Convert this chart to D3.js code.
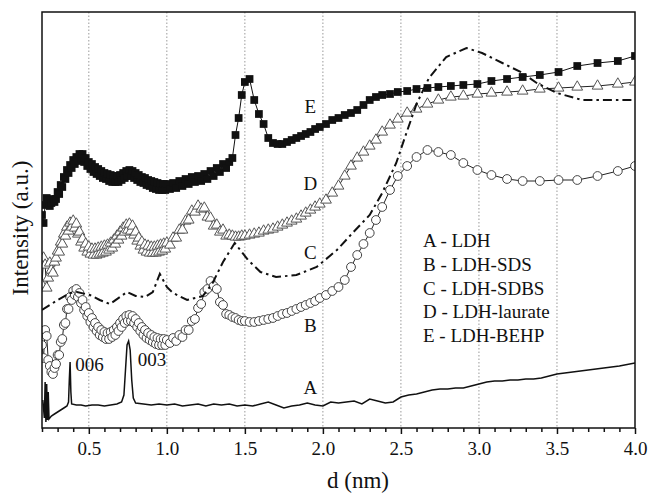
<!DOCTYPE html>
<html>
<head>
<meta charset="utf-8">
<script src="https://cdn.jsdelivr.net/npm/d3@7"></script>
<style>
  body { margin: 0; background: #fff; }
  svg { display: block; }
  text { font-family: "Liberation Serif", "Times New Roman", serif; fill: #111; }
</style>
</head>
<body>
<div id="chart"></div>
<script>
// scan positions (d, nm) shared by the marker curves B, D, E
const dScan = [
  0.20, 0.21, 0.22, 0.23, 0.24, 0.25, 0.26, 0.27, 0.28, 0.29,
  0.30, 0.31, 0.32, 0.33, 0.34, 0.35, 0.36, 0.37, 0.38, 0.39,
  0.40, 0.41, 0.42, 0.43, 0.44, 0.45, 0.46, 0.47, 0.48, 0.49,
  0.50, 0.51, 0.52, 0.53, 0.54, 0.55, 0.56, 0.57, 0.58, 0.59,
  0.60, 0.61, 0.62, 0.63, 0.64, 0.65, 0.66, 0.67, 0.68, 0.69,
  0.70, 0.71, 0.72, 0.73, 0.74, 0.75, 0.76, 0.77, 0.78, 0.79,
  0.80, 0.81, 0.82, 0.83, 0.84, 0.85, 0.86, 0.87, 0.88, 0.89,
  0.90, 0.91, 0.92, 0.93, 0.94, 0.95, 0.96, 0.97, 0.98, 0.99,
  1.00, 1.02, 1.04, 1.06, 1.08, 1.10, 1.12, 1.14, 1.16, 1.18,
  1.20, 1.22, 1.24, 1.26, 1.28, 1.30, 1.32, 1.34, 1.36, 1.38,
  1.40, 1.42, 1.44, 1.46, 1.48, 1.50, 1.53, 1.56, 1.59, 1.62,
  1.65, 1.68, 1.71, 1.74, 1.77, 1.80, 1.83, 1.86, 1.89, 1.92,
  1.95, 1.98, 2.02, 2.06, 2.10, 2.14, 2.18, 2.22, 2.26, 2.30,
  2.34, 2.38, 2.43, 2.48, 2.54, 2.60, 2.67, 2.74, 2.82, 2.90,
  2.99, 3.08, 3.18, 3.28, 3.39, 3.51, 3.63, 3.76, 3.89, 4.00
];

// B - LDH-SDS (open circles)
const intB = [
  83, 70, 98, 92, 68, 62, 56, 54, 60, 64,
  73, 73, 86, 89, 103, 105, 119, 119, 131, 128,
  137, 133, 139, 131, 135, 125, 128, 118, 121, 112,
  115, 106, 110, 101, 105, 97, 101, 93, 98, 91,
  96, 89, 95, 89, 96, 91, 98, 93, 101, 97,
  105, 101, 109, 105, 112, 107, 113, 107, 112, 105,
  109, 101, 105, 97, 101, 93, 98, 90, 95, 88,
  93, 86, 91, 84, 90, 83, 89, 83, 89, 83,
  88, 85, 90, 87, 93, 91, 98, 98, 107, 109,
  120, 124, 136, 139, 147, 142, 139, 126, 123, 114,
  113, 111, 110, 108, 107, 107, 106, 106, 107, 108,
  109, 110, 112, 114, 115, 117, 119, 121, 123, 125,
  127, 130, 133, 137, 141, 148, 161, 173, 184, 195,
  208, 221, 238, 252, 262, 271, 278, 276, 273, 265,
  258, 253, 249, 247, 247, 248, 248, 252, 257, 262
];

// D - LDH-laurate (open triangles)
const intD = [
  143, 170, 163, 140, 150, 165, 158, 155, 166, 170,
  177, 176, 186, 184, 194, 192, 201, 197, 205, 201,
  207, 200, 204, 194, 196, 186, 189, 180, 184, 176,
  181, 174, 179, 173, 179, 173, 180, 174, 181, 175,
  182, 176, 183, 178, 185, 180, 188, 184, 192, 188,
  196, 192, 200, 196, 203, 198, 204, 197, 202, 193,
  196, 187, 190, 182, 186, 178, 183, 176, 182, 175,
  181, 175, 181, 175, 182, 176, 183, 177, 184, 179,
  185, 183, 190, 190, 198, 198, 207, 208, 217, 216,
  222, 219, 220, 211, 210, 202, 203, 196, 198, 192,
  193, 192, 191, 191, 192, 192, 193, 194, 195, 197,
  198, 199, 201, 203, 205, 207, 209, 212, 215, 218,
  221, 224, 228, 235, 242, 252, 262, 270, 276, 282,
  288, 296, 303, 309, 315, 319, 324, 328, 331, 332,
  334, 335, 336, 337, 339, 340, 341, 342, 344, 346
];

// E - LDH-BEHP (filled squares)
const intE = [
  213, 205, 223, 230, 228, 222, 225, 229, 226, 229,
  236, 234, 243, 241, 251, 249, 258, 255, 263, 260,
  268, 264, 271, 267, 274, 269, 274, 266, 270, 262,
  266, 259, 264, 256, 261, 254, 259, 252, 257, 250,
  255, 249, 254, 247, 253, 246, 252, 246, 252, 246,
  253, 248, 255, 250, 257, 252, 258, 252, 257, 250,
  255, 248, 253, 246, 251, 245, 250, 243, 248, 242,
  247, 240, 246, 239, 245, 238, 244, 238, 244, 238,
  244, 239, 245, 240, 247, 242, 249, 244, 251, 246,
  252, 247, 254, 249, 257, 252, 260, 256, 264, 260,
  266, 270, 293, 310, 333, 346, 349, 328, 314, 304,
  290, 285, 284, 284, 286, 288, 290, 292, 294, 296,
  299, 301, 304, 308, 310, 313, 315, 318, 323, 328,
  331, 333, 334, 336, 337, 339, 340, 341, 342, 343,
  344, 347, 349, 351, 353, 356, 362, 365, 367, 372
];

// A - LDH (solid line) [d, intensity]
const curveA = [
  [0.205, 28], [0.215, 10], [0.22, 46], [0.225, 6], [0.23, 44], [0.235, 8], [0.24, 36], [0.245, 9],
  [0.26, 12], [0.28, 14], [0.30, 16], [0.32, 18], [0.34, 20], [0.36, 22], [0.37, 26], [0.375, 48],
  [0.38, 66], [0.385, 36], [0.39, 24], [0.42, 23], [0.45, 23], [0.48, 22], [0.52, 23], [0.56, 23],
  [0.60, 22], [0.64, 23], [0.68, 24], [0.71, 26], [0.725, 33], [0.735, 58], [0.745, 83], [0.755, 87],
  [0.765, 78], [0.775, 48], [0.785, 30], [0.80, 25], [0.85, 24], [0.90, 23], [0.95, 24], [1.00, 23],
  [1.05, 24], [1.10, 22], [1.15, 23], [1.20, 24], [1.25, 22], [1.30, 24], [1.35, 23], [1.40, 24],
  [1.45, 22], [1.50, 23], [1.55, 22], [1.60, 24], [1.65, 26], [1.70, 23], [1.75, 20], [1.80, 22],
  [1.85, 23], [1.90, 25], [1.95, 23], [2.00, 22], [2.05, 26], [2.10, 25], [2.15, 26], [2.20, 27],
  [2.25, 24], [2.30, 29], [2.35, 27], [2.40, 25], [2.45, 26], [2.50, 31], [2.55, 33], [2.60, 34],
  [2.65, 36], [2.70, 38], [2.75, 39], [2.80, 39], [2.85, 40], [2.90, 40], [2.95, 42], [3.00, 44],
  [3.05, 46], [3.10, 47], [3.15, 47], [3.20, 48], [3.25, 48], [3.30, 49], [3.35, 49], [3.40, 50],
  [3.45, 52], [3.50, 54], [3.55, 55], [3.60, 56], [3.70, 58], [3.80, 60], [3.90, 62], [4.00, 65]
];

// C - LDH-SDBS (dash-dot line) [d, intensity]
const curveC = [
  [0.20, 118], [0.30, 128], [0.38, 135], [0.424, 136], [0.507, 133], [0.57, 128], [0.635, 124],
  [0.70, 131], [0.744, 136], [0.80, 132], [0.86, 131], [0.91, 136], [0.955, 154], [1.00, 141],
  [1.04, 135], [1.13, 128], [1.23, 132], [1.29, 144], [1.36, 166], [1.435, 185], [1.52, 168],
  [1.60, 156], [1.70, 151], [1.83, 153], [1.96, 161], [2.09, 178], [2.19, 195], [2.30, 213],
  [2.38, 235], [2.47, 265], [2.535, 295], [2.60, 324], [2.68, 350], [2.79, 371], [2.92, 380],
  [3.02, 375], [3.15, 365], [3.28, 355], [3.37, 345], [3.50, 335], [3.66, 328], [3.85, 328], [4.00, 328]
];

const majorTicks = [0.5, 1.0, 1.5, 2.0, 2.5, 3.0, 3.5, 4.0];
const legendLabels = ["A - LDH", "B - LDH-SDS", "C - LDH-SDBS", "D - LDH-laurate", "E - LDH-BEHP"];
// curve letters and peak indices, placed in data coordinates
const notes = [
  { text: "E", d: 1.92, i: 315 },
  { text: "D", d: 1.92, i: 238 },
  { text: "C", d: 1.92, i: 169 },
  { text: "B", d: 1.92, i: 96 },
  { text: "A", d: 1.92, i: 34 },
  { text: "006", d: 0.505, i: 57 },
  { text: "003", d: 0.905, i: 62 }
];

let svgWidth = 651;
let svgHeight = 493;

let margin = { top: 12, right: 16, bottom: 65, left: 42 };

let width = svgWidth - margin.left - margin.right;
let height = svgHeight - margin.top - margin.bottom;

var svg = d3.select("#chart")
  .append("svg")
  .attr("width", svgWidth)
  .attr("height", svgHeight);

var chartGroup = svg.append("g")
  .attr("transform", `translate(${margin.left}, ${margin.top})`);

let x = d3.scaleLinear().domain([0.2, 4.0]).range([0, width]);
let y = d3.scaleLinear().domain([0, 416]).range([height, 0]);

svg.append("defs").append("clipPath")
  .attr("id", "plot-clip")
  .append("rect")
  .attr("width", width)
  .attr("height", height);

// dotted vertical grid
chartGroup.append("g")
  .selectAll("line")
  .data(majorTicks.filter(t => t < 4))
  .enter()
  .append("line")
  .attr("x1", d => x(d))
  .attr("x2", d => x(d))
  .attr("y1", 0)
  .attr("y2", height)
  .attr("stroke", "#9a9a9a")
  .attr("stroke-width", 1)
  .attr("stroke-dasharray", "1.5,2");

let plot = chartGroup.append("g").attr("clip-path", "url(#plot-clip)");

let line = d3.line().x(p => x(p[0])).y(p => y(p[1]));

let ptsB = dScan.map((d, i) => [d, intB[i]]);
let ptsD = dScan.map((d, i) => [d, intD[i]]);
let ptsE = dScan.map((d, i) => [d, intE[i]]);

// A
plot.append("path")
  .datum(curveA)
  .attr("d", line)
  .attr("fill", "none")
  .attr("stroke", "#111")
  .attr("stroke-width", 1.5);

// B
plot.append("path")
  .datum(ptsB)
  .attr("d", line)
  .attr("fill", "none")
  .attr("stroke", "#222")
  .attr("stroke-width", 1);

plot.append("g")
  .selectAll("circle")
  .data(ptsB)
  .enter()
  .append("circle")
  .attr("cx", p => x(p[0]))
  .attr("cy", p => y(p[1]))
  .attr("r", 4.4)
  .attr("fill", "#fff")
  .attr("stroke", "#444")
  .attr("stroke-width", 1);

// D
plot.append("path")
  .datum(ptsD)
  .attr("d", line)
  .attr("fill", "none")
  .attr("stroke", "#222")
  .attr("stroke-width", 1);

plot.append("g")
  .selectAll("path")
  .data(ptsD)
  .enter()
  .append("path")
  .attr("transform", p => `translate(${x(p[0])}, ${y(p[1])})`)
  .attr("d", d3.symbol().type(d3.symbolTriangle).size(50))
  .attr("fill", "#fff")
  .attr("stroke", "#555")
  .attr("stroke-width", 1);

// C
plot.append("path")
  .datum(curveC)
  .attr("d", line)
  .attr("fill", "none")
  .attr("stroke", "#111")
  .attr("stroke-width", 2)
  .attr("stroke-dasharray", "9,4,2.5,4");

// E
plot.append("path")
  .datum(ptsE)
  .attr("d", line)
  .attr("fill", "none")
  .attr("stroke", "#111")
  .attr("stroke-width", 1);

plot.append("g")
  .selectAll("path")
  .data(ptsE)
  .enter()
  .append("path")
  .attr("transform", p => `translate(${x(p[0])}, ${y(p[1])})`)
  .attr("d", d3.symbol().type(d3.symbolSquare).size(60))
  .attr("fill", "#111");

// frame
chartGroup.append("rect")
  .attr("width", width)
  .attr("height", height)
  .attr("fill", "none")
  .attr("stroke", "#111")
  .attr("stroke-width", 1.5);

// x axis, minor then major ticks
let minorTicks = d3.range(2, 41).map(v => v / 10).filter(v => Math.round(v * 10) % 5 !== 0);

chartGroup.append("g")
  .attr("transform", `translate(0, ${height})`)
  .call(d3.axisBottom(x).tickValues(minorTicks).tickSize(4).tickSizeOuter(0).tickFormat(""))
  .call(g => g.select(".domain").remove())
  .call(g => g.selectAll("line").attr("stroke", "#111").attr("stroke-width", 1.5));

let bottomAxis = d3.axisBottom(x)
  .tickValues(majorTicks)
  .tickFormat(d3.format(".1f"))
  .tickSize(6)
  .tickSizeOuter(0)
  .tickPadding(8);

chartGroup.append("g")
  .attr("transform", `translate(0, ${height})`)
  .call(bottomAxis)
  .call(g => g.select(".domain").remove())
  .call(g => g.selectAll("line").attr("stroke", "#111").attr("stroke-width", 1.5))
  .call(g => g.selectAll("text")
    .attr("font-family", "Liberation Serif, Times New Roman, serif")
    .attr("font-size", 19)
    .attr("fill", "#111"));

// annotations
chartGroup.append("g")
  .selectAll("text")
  .data(notes)
  .enter()
  .append("text")
  .attr("x", n => x(n.d))
  .attr("y", n => y(n.i))
  .attr("text-anchor", "middle")
  .attr("font-size", 19)
  .text(n => n.text);

// legend
chartGroup.append("g")
  .attr("transform", `translate(${423 - margin.left}, ${247 - margin.top})`)
  .selectAll("text")
  .data(legendLabels)
  .enter()
  .append("text")
  .attr("y", (d, i) => i * 23.8)
  .attr("font-size", 19)
  .text(d => d);

// axis titles
svg.append("text")
  .attr("transform", "rotate(-90)")
  .attr("x", -228)
  .attr("y", 28)
  .attr("text-anchor", "middle")
  .attr("font-size", 23)
  .text("Intensity (a.u.)");

svg.append("text")
  .attr("x", 358)
  .attr("y", 488)
  .attr("text-anchor", "middle")
  .attr("font-size", 23)
  .text("d (nm)");
</script>
</body>
</html>
